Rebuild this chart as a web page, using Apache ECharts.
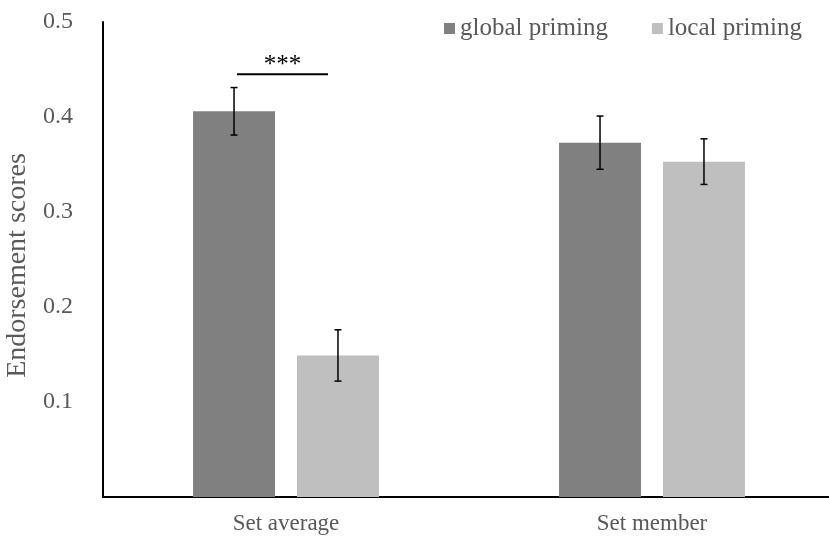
<!DOCTYPE html>
<html>
<head>
<meta charset="utf-8">
<script src="https://cdn.jsdelivr.net/npm/echarts@6/dist/echarts.min.js"></script>
<style>html,body{margin:0;padding:0;background:#fff}#c{width:829px;height:543px}</style>
</head>
<body>
<div id="c"></div>
<script>
var categories = ['Set average', 'Set member'];
var globalValues = [0.406, 0.373];
var localValues = [0.149, 0.353];
var globalErrors = [0.025, 0.028];
var localErrors = [0.027, 0.024];
var yTickLabels = [0.1, 0.2, 0.3, 0.4, 0.5];
var sigLevel = 0.445;
var sigText = '***';

var FONT = '"Liberation Serif", "Times New Roman", serif';
var TXT = '#595959';
var CAT_GAP = 0.492, BAR_GAP = 0.268;

function barGeom(api, idx, seriesPos) {
  var band = api.size([1, 0])[0];
  var bw = band * (1 - CAT_GAP) / (2 + BAR_GAP);
  var gap = bw * BAR_GAP;
  var off = (bw + gap) / 2;
  return { bw: bw, off: seriesPos === 0 ? -off : off };
}

function errRender(seriesPos) {
  return function (params, api) {
    var i = api.value(0);
    var g = barGeom(api, i, seriesPos);
    var hi = api.coord([i, api.value(2)]);
    var lo = api.coord([i, api.value(1)]);
    var x = hi[0] + g.off;
    var cap = 3.5;
    var st = { stroke: '#000', lineWidth: 1.5 };
    return {
      type: 'group',
      children: [
        { type: 'line', shape: { x1: x, y1: hi[1], x2: x, y2: lo[1] }, style: st },
        { type: 'line', shape: { x1: x - cap, y1: hi[1], x2: x + cap, y2: hi[1] }, style: st },
        { type: 'line', shape: { x1: x - cap, y1: lo[1], x2: x + cap, y2: lo[1] }, style: st }
      ]
    };
  };
}

var globalErrData = globalValues.map(function (v, i) { return [i, v - globalErrors[i], v + globalErrors[i]]; });
var localErrData = localValues.map(function (v, i) { return [i, v - localErrors[i], v + localErrors[i]]; });

var chart = echarts.init(document.getElementById('c'));
chart.setOption({
  animation: false,
  backgroundColor: '#fff',
  textStyle: { fontFamily: FONT },
  grid: { left: 103, right: -6, top: 22, bottom: 46, containLabel: false, outerBoundsMode: 'none' },
  legend: {
    left: 439, top: 11,
    icon: 'rect', itemWidth: 11, itemHeight: 11, itemGap: 44,
    textStyle: { fontFamily: FONT, fontSize: 25, color: TXT },
    data: ['global priming', 'local priming']
  },
  xAxis: {
    type: 'category',
    data: categories,
    axisLine: { lineStyle: { color: '#000', width: 2 } },
    axisTick: { show: false },
    axisLabel: { fontFamily: FONT, fontSize: 23, color: TXT, margin: 15 }
  },
  yAxis: {
    type: 'value',
    min: 0, max: 0.5, interval: 0.1,
    name: 'Endorsement scores',
    nameLocation: 'middle',
    nameGap: 59,
    nameRotate: 90,
    nameTextStyle: { fontFamily: FONT, fontSize: 28, color: TXT, padding: [0, 12, 0, 0] },
    axisLine: { show: true, lineStyle: { color: '#000', width: 2 } },
    axisTick: { show: false },
    splitLine: { show: false },
    axisLabel: {
      fontFamily: FONT, fontSize: 24, color: TXT, margin: 30,
      customValues: yTickLabels,
      formatter: function (v) { return v === 0 ? '' : v.toFixed(1); }
    }
  },
  series: [
    {
      name: 'global priming', type: 'bar', data: globalValues,
      barCategoryGap: (CAT_GAP * 100) + '%', barGap: (BAR_GAP * 100) + '%',
      itemStyle: { color: '#808080' }
    },
    {
      name: 'local priming', type: 'bar', data: localValues,
      barCategoryGap: (CAT_GAP * 100) + '%', barGap: (BAR_GAP * 100) + '%',
      itemStyle: { color: '#bfbfbf' }
    },
    {
      type: 'custom', data: globalErrData, renderItem: errRender(0),
      encode: { x: 0, y: [1, 2] }, z: 10, silent: true
    },
    {
      type: 'custom', data: localErrData, renderItem: errRender(1),
      encode: { x: 0, y: [1, 2] }, z: 10, silent: true
    },
    {
      type: 'custom', data: [[0, sigLevel]], z: 10, silent: true,
      encode: { x: 0, y: 1 },
      renderItem: function (params, api) {
        var i = api.value(0);
        var p = api.coord([i, api.value(1)]);
        var g0 = barGeom(api, i, 0), g1 = barGeom(api, i, 1);
        var x1 = p[0] + g0.off + 3, x2 = p[0] + g1.off - 10;
        return {
          type: 'group',
          children: [
            { type: 'line', shape: { x1: x1, y1: p[1], x2: x2, y2: p[1] }, style: { stroke: '#000', lineWidth: 2 } },
            { type: 'text', style: { text: sigText, x: (x1 + x2) / 2, y: p[1] + 4, align: 'center', verticalAlign: 'bottom', fontFamily: FONT, fontSize: 25, fill: '#000' } }
          ]
        };
      }
    }
  ]
});
</script>
</body>
</html>
